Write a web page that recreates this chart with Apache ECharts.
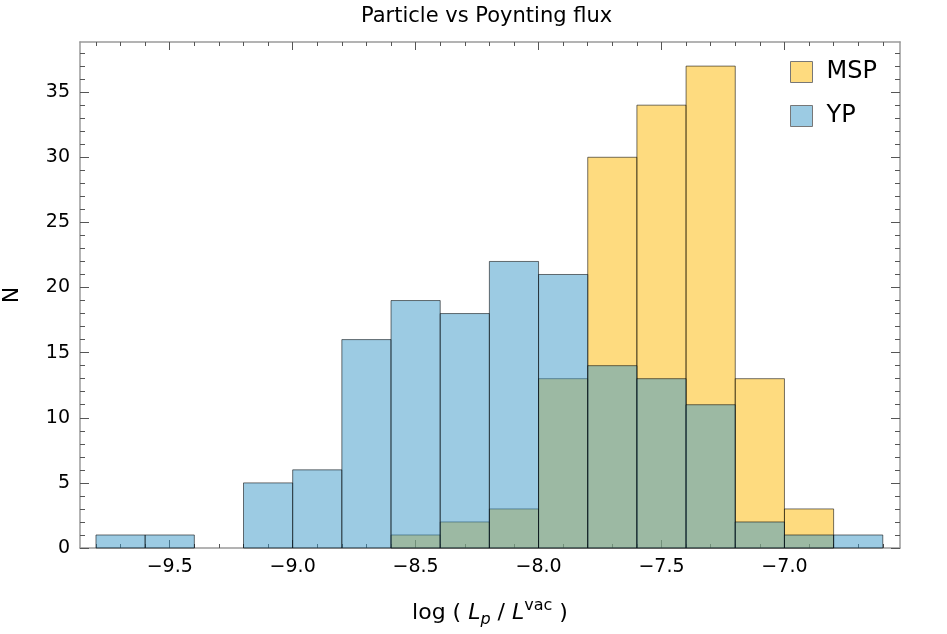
<!DOCTYPE html>
<html>
<head>
<meta charset="utf-8">
<script src="https://cdn.jsdelivr.net/npm/echarts@6/dist/echarts.min.js"></script>
<style>
  html, body { margin: 0; padding: 0; background: #fff; }
  #chart { width: 947px; height: 634px; }
</style>
</head>
<body>
<div id="chart"></div>
<script>
// histogram bins (left/right edges), width 0.2
const binLeft  = [-9.8, -9.6, -9.4, -9.2, -9.0, -8.8, -8.6, -8.4, -8.2, -8.0, -7.8, -7.6, -7.4, -7.2, -7.0, -6.8]
const binRight = [-9.6, -9.4, -9.2, -9.0, -8.8, -8.6, -8.4, -8.2, -8.0, -7.8, -7.6, -7.4, -7.2, -7.0, -6.8, -6.6]
const mspCounts = [0, 0, 0, 0, 0, 0, 1, 2, 3, 13, 30, 34, 37, 13, 3, 0]
const ypCounts  = [1, 1, 0, 5, 6, 16, 19, 18, 22, 21, 14, 13, 11, 2, 1, 1]

const xMajorTicks = [-9.5, -9.0, -8.5, -8.0, -7.5, -7.0]
const xMinorTicks = [-9.8, -9.7, -9.6, -9.4, -9.3, -9.2, -9.1, -8.9, -8.8, -8.7, -8.6, -8.4, -8.3, -8.2, -8.1,
  -7.9, -7.8, -7.7, -7.6, -7.4, -7.3, -7.2, -7.1, -6.9, -6.8, -6.7, -6.6]
const yMajorTicks = [0, 5, 10, 15, 20, 25, 30, 35]
const yMinorTicks = [1, 2, 3, 4, 6, 7, 8, 9, 11, 12, 13, 14, 16, 17, 18, 19, 21, 22, 23, 24,
  26, 27, 28, 29, 31, 32, 33, 34, 36, 37, 38]

const FONT = 'DejaVu Sans'
const mspFill = 'rgba(253, 183, 0, 0.5)'
const ypFill = 'rgba(57, 151, 199, 0.5)'
const edge = 'rgba(0, 0, 0, 0.55)'

const toBins = (counts) => counts
  .map((n, i) => [binLeft[i], binRight[i], n])
  .filter(d => d[2] > 0)

const histRender = (fill) => (params, api) => {
  const p0 = api.coord([api.value(0), api.value(2)])
  const p1 = api.coord([api.value(1), 0])
  return {
    type: 'rect',
    shape: { x: p0[0], y: p0[1], width: p1[0] - p0[0], height: p1[1] - p0[1] },
    style: { fill: fill, stroke: edge, lineWidth: 1 }
  }
}

const frameLine = { show: true, onZero: false, lineStyle: { color: '#9a9a9a', width: 1.5 } }
const noLine = { show: false, onZero: false }
const tickStyle = { color: '#555', width: 1 }
const xMin = -9.865, xMax = -6.53
const yMin = 0, yMax = 38.85

const xAxisBase = (pos, ticks, len, labels, withLine) => ({
  type: 'value', position: pos, min: xMin, max: xMax,
  axisLine: withLine ? frameLine : noLine,
  axisTick: { show: true, inside: true, length: len, customValues: ticks, lineStyle: tickStyle },
  axisLabel: labels ? {
    show: true, customValues: labels, margin: 10,
    fontFamily: FONT, fontSize: 19, color: '#000',
    formatter: v => v.toFixed(1).replace('-', '\u2212')
  } : { show: false },
  splitLine: { show: false }
})

const yAxisBase = (pos, ticks, len, labels, withLine) => ({
  type: 'value', position: pos, min: yMin, max: yMax,
  axisLine: withLine ? frameLine : noLine,
  axisTick: { show: true, inside: true, length: len, customValues: ticks, lineStyle: tickStyle },
  axisLabel: labels ? {
    show: true, customValues: labels, margin: 10,
    fontFamily: FONT, fontSize: 19, color: '#000'
  } : { show: false },
  splitLine: { show: false }
})

const chart = echarts.init(document.getElementById('chart'), null, { renderer: 'canvas' })

const xMain = xAxisBase('bottom', xMajorTicks, 8, xMajorTicks, true)
xMain.name = '{n|log ( }{i|L}{sub|p}{n| / }{i|L}{sup|vac}{n| )}'
xMain.nameLocation = 'middle'
xMain.nameGap = 50
xMain.nameTextStyle = {
  fontFamily: FONT, fontSize: 22, color: '#000',
  rich: {
    n: { fontFamily: FONT, fontSize: 22, lineHeight: 30 },
    i: { fontFamily: FONT, fontSize: 22, fontStyle: 'italic', lineHeight: 30 },
    sub: { fontFamily: FONT, fontSize: 16, fontStyle: 'italic', lineHeight: 30, verticalAlign: 'bottom' },
    sup: { fontFamily: FONT, fontSize: 16, lineHeight: 30, verticalAlign: 'top' }
  }
}

const yMain = yAxisBase('left', yMajorTicks, 9, yMajorTicks, true)
yMain.name = 'N'
yMain.nameLocation = 'middle'
yMain.nameGap = 57
yMain.nameTextStyle = { fontFamily: FONT, fontSize: 22, color: '#000' }

const option = {
  animation: false,
  backgroundColor: '#fff',
  title: {
    text: 'Particle vs Poynting flux',
    left: 356, top: 1,
    textStyle: { fontFamily: FONT, fontSize: 21, fontWeight: 'normal', color: '#000' }
  },
  legend: {
    orient: 'vertical',
    left: 790, top: 60, padding: 0,
    itemWidth: 22, itemHeight: 21, itemGap: 20,
    textStyle: { fontFamily: FONT, fontSize: 24, color: '#000', padding: [0, 0, 0, 9] },
    data: [
      { name: 'MSP', icon: 'rect', itemStyle: { color: mspFill, borderColor: '#777', borderWidth: 1 } },
      { name: 'YP', icon: 'rect', itemStyle: { color: ypFill, borderColor: '#777', borderWidth: 1 } }
    ]
  },
  grid: { left: 80, right: 47, top: 42, bottom: 86, containLabel: false, outerBoundsMode: 'none' },
  xAxis: [
    xMain,
    xAxisBase('bottom', xMinorTicks, 4, null, false),
    xAxisBase('top', xMajorTicks, 8, null, true),
    xAxisBase('top', xMinorTicks, 4, null, false)
  ],
  yAxis: [
    yMain,
    yAxisBase('left', yMinorTicks, 5, null, false),
    yAxisBase('right', yMajorTicks, 9, null, true),
    yAxisBase('right', yMinorTicks, 5, null, false)
  ],
  series: [
    {
      name: 'MSP', type: 'custom', xAxisIndex: 0, yAxisIndex: 0,
      itemStyle: { color: mspFill },
      renderItem: histRender(mspFill),
      data: toBins(mspCounts)
    },
    {
      name: 'YP', type: 'custom', xAxisIndex: 0, yAxisIndex: 0,
      itemStyle: { color: ypFill },
      renderItem: histRender(ypFill),
      data: toBins(ypCounts)
    }
  ]
}

chart.setOption(option)
</script>
</body>
</html>
